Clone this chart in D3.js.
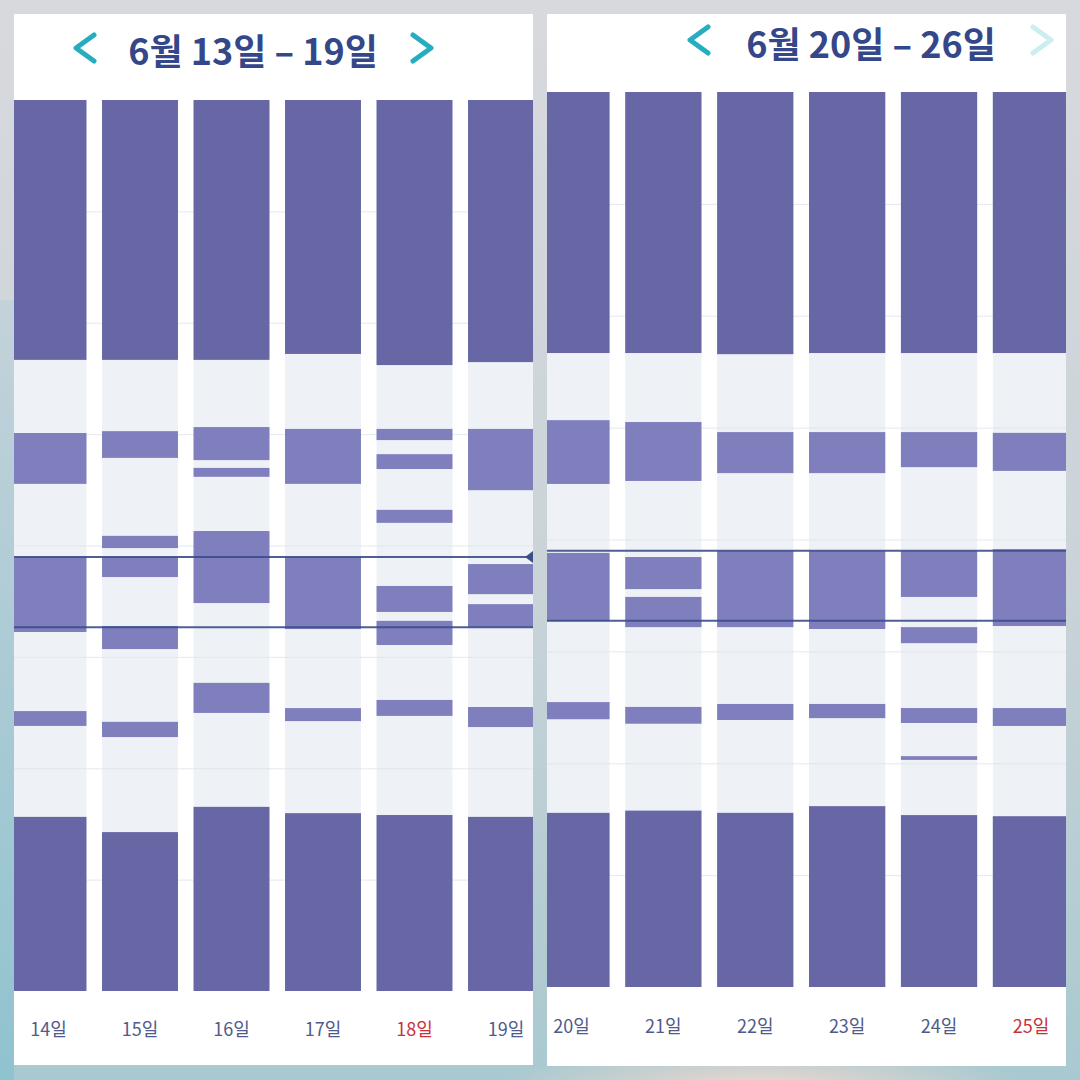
<!DOCTYPE html>
<html>
<head>
<meta charset="utf-8">
<script src="https://cdn.jsdelivr.net/npm/d3@7"></script>
<style>
  html, body { margin: 0; padding: 0; width: 1080px; height: 1080px; overflow: hidden; }
  svg { display: block; }
</style>
</head>
<body>
<svg id="chart" width="1080" height="1080"></svg>
<script>
// ---------- DATA (hours from top of chart, 0–24) ----------
const hourTicks = [0, 3, 6, 9, 12, 15, 18, 21, 24];

const week1Title = "6월 13일 – 19일";
const week1Days = ["14일", "15일", "16일", "17일", "18일", "19일"];
const week1Holiday = ["18일"];
const week1MorningEnd = [7.00, 7.00, 7.00, 6.84, 7.14, 7.06];
const week1NightStart = [19.31, 19.72, 19.04, 19.21, 19.26, 19.31];
const week1Naps = [
  [[8.97, 10.34], [12.31, 14.33], [16.46, 16.86]],
  [[8.92, 9.64], [11.74, 12.07], [12.31, 12.85], [14.17, 14.79], [16.75, 17.16]],
  [[8.81, 9.70], [9.91, 10.15], [11.61, 13.55], [15.70, 16.51]],
  [[8.86, 10.34], [12.31, 14.25], [16.38, 16.73]],
  [[8.86, 9.16], [9.54, 9.94], [11.04, 11.39], [13.09, 13.79], [14.03, 14.68], [16.16, 16.59]],
  [[8.86, 10.51], [12.50, 13.31], [13.58, 14.20], [16.35, 16.89]]
];
const week1Average = [12.31, 14.20];

const week2Title = "6월 20일 – 26일";
const week2Days = ["20일", "21일", "22일", "23일", "24일", "25일"];
const week2Holiday = ["25일"];
const week2MorningEnd = [7.00, 7.00, 7.03, 7.00, 7.00, 7.00];
const week2NightStart = [19.33, 19.27, 19.33, 19.15, 19.39, 19.42];
const week2Naps = [
  [[8.80, 10.51], [12.36, 14.19], [16.36, 16.82]],
  [[8.85, 10.43], [12.47, 13.33], [13.54, 14.35], [16.49, 16.94]],
  [[9.12, 10.22], [12.31, 14.35], [16.41, 16.84]],
  [[9.12, 10.22], [12.31, 14.40], [16.41, 16.79]],
  [[9.12, 10.06], [12.31, 13.54], [14.35, 14.78], [16.52, 16.92], [17.81, 17.91]],
  [[9.14, 10.16], [12.26, 14.32], [16.52, 17.00]]
];
const week2Average = [12.30, 14.18];

// ---------- STYLE ----------
const C = {
  dark: "#6767a5",
  light: "#7f7fbe",
  colBg: "#eef2f6",
  grid: "#dfe4ea",
  avg: "#3c4d8b",
  title: "#34478a",
  tick: "#4f5b8b",
  holiday: "#c8323c",
  arrow: "#27adc0",
  arrowOff: "#cdeeee"
};

const svg = d3.select("#chart");
const defs = svg.append("defs");

// background
const bgGrad = defs.append("linearGradient").attr("id", "bgGrad")
  .attr("x1", 0).attr("y1", 0).attr("x2", 0).attr("y2", 1);
bgGrad.append("stop").attr("offset", "0%").attr("stop-color", "#d8d9dd");
bgGrad.append("stop").attr("offset", "55%").attr("stop-color", "#c9d3d8");
bgGrad.append("stop").attr("offset", "100%").attr("stop-color", "#a9c9d0");
svg.append("rect").attr("width", 1080).attr("height", 1080).attr("fill", "url(#bgGrad)");

const leftGlow = defs.append("linearGradient").attr("id", "leftGlow")
  .attr("x1", 0).attr("y1", 0).attr("x2", 0).attr("y2", 1);
leftGlow.append("stop").attr("offset", "0%").attr("stop-color", "#c4d2da");
leftGlow.append("stop").attr("offset", "100%").attr("stop-color", "#8fc3cf");
svg.append("rect").attr("x", 0).attr("y", 300).attr("width", 14).attr("height", 780).attr("fill", "url(#leftGlow)");

const peach = defs.append("radialGradient").attr("id", "peach")
  .attr("cx", 0.5).attr("cy", 0.5).attr("r", 0.5);
peach.append("stop").attr("offset", "0%").attr("stop-color", "#ead8cf").attr("stop-opacity", 1);
peach.append("stop").attr("offset", "100%").attr("stop-color", "#ead8cf").attr("stop-opacity", 0);
svg.append("ellipse").attr("cx", 760).attr("cy", 1085).attr("rx", 260).attr("ry", 40).attr("fill", "url(#peach)");

function drawPanel(cfg) {
  const g = svg.append("g");
  const card = cfg.card;
  g.append("rect").attr("x", card.x0).attr("y", card.y0)
    .attr("width", card.x1 - card.x0).attr("height", card.y1 - card.y0).attr("fill", "#ffffff");

  const clipId = "clip" + cfg.id;
  defs.append("clipPath").attr("id", clipId).append("rect")
    .attr("x", card.x0).attr("y", card.y0)
    .attr("width", card.x1 - card.x0).attr("height", card.y1 - card.y0);

  const x = d3.scaleBand().domain(cfg.days)
    .range(cfg.xRange).paddingInner(0.17).paddingOuter(0.085);
  const y = d3.scaleLinear().domain([0, 24]).range(cfg.yRange);

  const plot = g.append("g").attr("clip-path", `url(#${clipId})`);

  // column backgrounds
  plot.selectAll(".colbg").data(cfg.days).join("rect")
    .attr("x", d => x(d)).attr("width", x.bandwidth())
    .attr("y", y(0)).attr("height", y(24) - y(0))
    .attr("fill", C.colBg);

  // gridlines
  plot.selectAll(".grid").data(hourTicks.slice(1, -1)).join("line")
    .attr("x1", card.x0).attr("x2", card.x1)
    .attr("y1", d => y(d) + 0.5).attr("y2", d => y(d) + 0.5)
    .attr("stroke", C.grid).attr("stroke-width", 1).attr("opacity", 0.8);

  // morning sleep block (top)
  plot.selectAll(".morning").data(cfg.days).join("rect")
    .attr("x", d => x(d)).attr("width", x.bandwidth())
    .attr("y", y(0))
    .attr("height", (d, i) => y(cfg.morningEnd[i]) - y(0))
    .attr("fill", C.dark);

  // night sleep block (bottom)
  plot.selectAll(".night").data(cfg.days).join("rect")
    .attr("x", d => x(d)).attr("width", x.bandwidth())
    .attr("y", (d, i) => y(cfg.nightStart[i]))
    .attr("height", (d, i) => y(24) - y(cfg.nightStart[i]))
    .attr("fill", C.dark);

  // naps
  const naps = [];
  cfg.days.forEach((d, i) => cfg.naps[i].forEach(n => naps.push({ day: d, s: n[0], e: n[1] })));
  plot.selectAll(".nap").data(naps).join("rect")
    .attr("x", d => x(d.day)).attr("width", x.bandwidth())
    .attr("y", d => y(d.s)).attr("height", d => y(d.e) - y(d.s))
    .attr("fill", C.light);

  // average lines
  plot.selectAll(".avg").data(cfg.average).join("line")
    .attr("x1", card.x0).attr("x2", card.x1)
    .attr("y1", d => y(d)).attr("y2", d => y(d))
    .attr("stroke", C.avg).attr("stroke-width", 2).attr("opacity", 0.9);

  if (cfg.marker) {
    const my = y(cfg.average[0]);
    g.append("path")
      .attr("d", `M${card.x1 - 8},${my} L${card.x1},${my - 6} L${card.x1},${my + 6} Z`)
      .attr("fill", C.avg);
  }

  // x-axis labels
  const axis = d3.axisBottom(x).tickSize(0).tickPadding(0);
  const ax = g.append("g").attr("transform", `translate(0,${cfg.labelY})`).call(axis);
  ax.select(".domain").remove();
  ax.selectAll("text")
    .attr("dy", 0)
    .attr("font-family", "'Noto Sans CJK KR', 'Noto Sans', sans-serif")
    .attr("font-size", 18)
    .attr("font-weight", 400)
    .attr("fill", d => cfg.holiday.includes(d) ? C.holiday : C.tick);

  // title
  g.append("text")
    .attr("x", cfg.titleX).attr("y", cfg.titleY)
    .attr("text-anchor", "middle")
    .attr("font-family", "'Noto Sans CJK KR', sans-serif")
    .attr("font-size", 36).attr("font-weight", 700)
    .attr("fill", C.title)
    .text(cfg.title);

  // chevrons
  const chev = (cx, cy, dir, color) => {
    g.append("path")
      .attr("d", `M${cx + dir * -9},${cy - 13} L${cx + dir * 9},${cy} L${cx + dir * -9},${cy + 13}`)
      .attr("fill", "none").attr("stroke", color).attr("stroke-width", 5)
      .attr("stroke-linecap", "round").attr("stroke-linejoin", "round");
  };
  chev(cfg.prevX, cfg.chevY, -1, C.arrow);
  chev(cfg.nextX, cfg.chevY, 1, cfg.nextEnabled ? C.arrow : C.arrowOff);
}

drawPanel({
  id: "A",
  card: { x0: 14, y0: 14, x1: 533, y1: 1065 },
  xRange: [2.75, 551.75],
  yRange: [100, 991],
  days: week1Days, holiday: week1Holiday,
  morningEnd: week1MorningEnd, nightStart: week1NightStart, naps: week1Naps,
  average: week1Average, marker: true,
  labelY: 1036,
  title: week1Title, titleX: 253, titleY: 65,
  prevX: 85, nextX: 422, chevY: 48, nextEnabled: true
});

drawPanel({
  id: "B",
  card: { x0: 547, y0: 14, x1: 1066, y1: 1066 },
  xRange: [525.5, 1076.9],
  yRange: [92, 987],
  days: week2Days, holiday: week2Holiday,
  morningEnd: week2MorningEnd, nightStart: week2NightStart, naps: week2Naps,
  average: week2Average, marker: false,
  labelY: 1033,
  title: week2Title, titleX: 871, titleY: 58,
  prevX: 699, nextX: 1042, chevY: 40, nextEnabled: false
});
</script>
</body>
</html>
